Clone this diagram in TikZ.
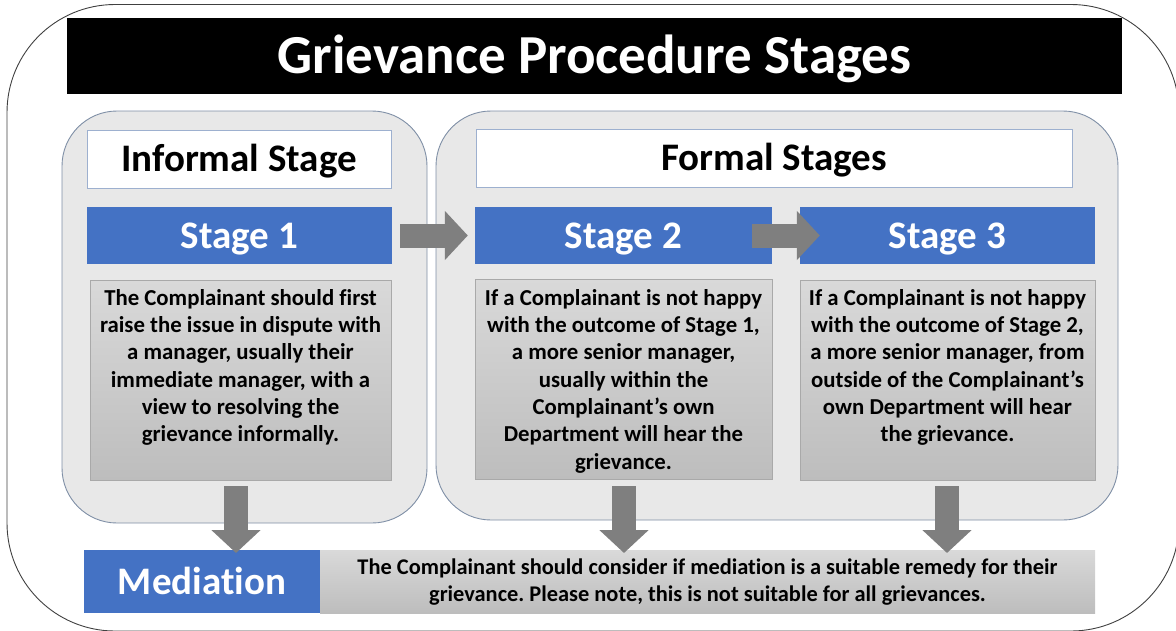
\documentclass[tikz,border=0pt]{standalone}
\usepackage{fontspec}
\setmainfont{Carlito}[Ligatures={NoCommon}]
\usetikzlibrary{arrows.meta}
\definecolor{stblue}{HTML}{4472C4}
\definecolor{grpfill}{HTML}{E8E8E8}
\definecolor{grpline}{HTML}{7F8FA6}
\definecolor{hdrline}{HTML}{9DB0CF}
\definecolor{arrgray}{HTML}{7F7F7F}
\definecolor{txtop}{HTML}{D9D9D9}
\definecolor{txbot}{HTML}{BDBDBD}
\definecolor{txline}{HTML}{A9A9A9}
\definecolor{frameline}{HTML}{404040}
\begin{document}
\frenchspacing
\begin{tikzpicture}[x=1pt,y=-1pt,
  group/.style={draw=grpline, line width=0.9pt, fill=grpfill, rounded corners=55pt, inner sep=0pt},
  bigtxt/.style={font=\bfseries\fontsize{39}{44}\selectfont, text height=25.1pt, text depth=0pt},
  hdr/.style={draw=hdrline, line width=0.9pt, fill=white, inner sep=0pt, bigtxt},
  bluebar/.style={fill=stblue, inner sep=0pt, text=white, bigtxt},
  txbox/.style={draw=txline, line width=0.6pt, top color=txtop, bottom color=txbot, inner sep=0pt},
  bodytxt/.style={inner sep=0pt, align=center, font=\bfseries\fontsize{22.8}{27.3}\selectfont},
  blockarrow/.style={line width=24pt, draw=arrgray, -{Triangle[width=48pt,length=23pt]}}
]
\useasboundingbox (0,0) rectangle (1176,630);
% outer frame
\draw[frameline, line width=0.9pt, rounded corners=108pt] (7,4.5) rectangle (1179,631);
% title
\node[fill=black, minimum width=1055pt, minimum height=76pt, inner sep=0pt, text=white,
  font=\bfseries\fontsize{55}{60}\selectfont, text height=35.4pt, text depth=0pt] (title) at (594.5,56) {Grievance Procedure Stages};
% groups
\node[group, minimum width=365pt, minimum height=412pt] (ginf) at (244.5,317) {};
\node[group, minimum width=682pt, minimum height=409pt] (gfor) at (777,315.5) {};
% headers
\node[hdr, minimum width=304pt, minimum height=58pt] (hinf) at (239,159) {Informal Stage};
\node[hdr, minimum width=596pt, minimum height=58pt] (hfor) at (774,158) {Formal Stages};
% stage bars
\node[bluebar, minimum width=305pt, minimum height=57pt] (s1) at (239.5,235.5) {Stage 1};
\node[bluebar, minimum width=297pt, minimum height=57pt] (s2) at (623.5,235.5) {Stage 2};
\node[bluebar, minimum width=295pt, minimum height=57pt] (s3) at (947.5,235.5) {Stage 3};
% text boxes
\node[txbox, minimum width=301pt, minimum height=200pt] (t1) at (240.5,380) {};
\node[txbox, minimum width=297pt, minimum height=200pt] (t2) at (623.5,379) {};
\node[txbox, minimum width=295pt, minimum height=200pt] (t3) at (947.5,380) {};
\node[bodytxt, anchor=north] (t1txt) at (240.5,289) {The Complainant should first\\raise the issue in dispute with\\a manager, usually their\\immediate manager, with a\\view to resolving the\\grievance informally.};
\node[bodytxt, anchor=north] (t2txt) at (623.5,289) {If a Complainant is not happy\\with the outcome of Stage 1,\\a more senior manager,\\usually within the\\Complainant’s own\\Department will hear the\\grievance.};
\node[bodytxt, anchor=north] (t3txt) at (947.5,289) {If a Complainant is not happy\\with the outcome of Stage 2,\\a more senior manager, from\\outside of the Complainant’s\\own Department will hear\\the grievance.};
% mediation
\node[txbox, draw=none, minimum width=775pt, minimum height=63pt] (med) at (707.5,581.5) {};
\node[bodytxt, font=\bfseries\fontsize{22.4}{27}\selectfont] (medtxt) at (707.5,582) {The Complainant should consider if mediation is a suitable remedy for their\\grievance. Please note, this is not suitable for all grievances.};
\node[bluebar, minimum width=236pt, minimum height=63pt] (medl) at (202,581.5) {Mediation};
% arrows
\coordinate (d1) at (236,553);
\coordinate (d2) at (624,553);
\coordinate (d3) at (947,553);
\draw[blockarrow] ([xshift=8pt]s1.east) -- ([xshift=-7pt]s2.west);
\draw[blockarrow] ([xshift=-20pt]s2.east) -- ([xshift=20pt]s3.west);
\draw[blockarrow] ([xshift=-4.5pt,yshift=-6pt]t1.south) -- (d1);
\draw[blockarrow] ([xshift=0.5pt,yshift=-7pt]t2.south) -- (d2);
\draw[blockarrow] ([xshift=-0.5pt,yshift=-6pt]t3.south) -- (d3);
\end{tikzpicture}
\end{document}
